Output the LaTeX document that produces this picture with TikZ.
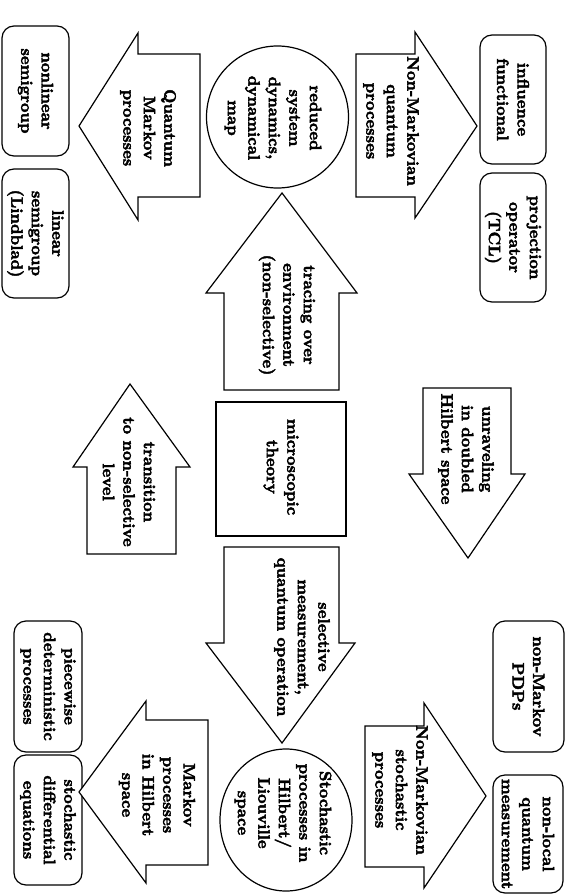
\documentclass[tikz,border=0pt]{standalone}
\usepackage{fontspec}
\newfontfamily\dfont{lmroman10-bold.otf}[FakeBold=2.5]
\begin{document}
\begin{tikzpicture}[x=1pt,y=-1pt,
  shp/.style={draw=black,line width=1.2pt,line join=miter,fill=white},
  rbox/.style={draw=black,line width=1.2pt,rounded corners=12pt},
  lbl/.style={rotate=-90,align=center,inner sep=0pt,font=\dfont\fontsize{16.5}{20.5}\selectfont}]
\useasboundingbox (0,0) rectangle (565,896);
% ---------- top row ----------
\draw[rbox] (2,26) rectangle (69,156);
\node[lbl] (nls) at (35.5,91) {nonlinear\\semigroup};
\draw[rbox] (2,169) rectangle (69,298);
\node[lbl] (lin) at (35.5,233.5) {linear\\semigroup\\(Lindblad)};
\draw[shp] (200,54) -- (138,54) -- (138,33) -- (79,126) -- (138,220) -- (138,197) -- (200,197) -- cycle;
\node[lbl] (qmp) at (148,128) {Quantum\\Markov\\processes};
\draw[shp] (277.5,117) circle[radius=71pt];
\node[lbl] (red) at (273,118) {reduced\\system\\dynamics,\\dynamical\\map};
\draw[shp] (356,54) -- (415,54) -- (415,32) -- (477,126) -- (415,218) -- (415,197) -- (356,197) -- cycle;
\node[lbl] (nmq) at (391,121) {Non-Markovian\\quantum\\processes};
\draw[rbox] (480,35) rectangle (546,164);
\node[lbl] (inf) at (513,99.5) {influence\\functional};
\draw[rbox] (480,173) rectangle (546,302);
\node[lbl] (tcl) at (513,237.5) {projection\\operator\\(TCL)};
% ---------- middle ----------
\draw[shp] (224,390) -- (224,293) -- (206,293) -- (282,193) -- (357,293) -- (339,293) -- (339,390) -- cycle;
\node[lbl] (trc) at (287,315) {tracing over\\environment\\(non-selective)};
\draw[shp] (87,554) -- (87,467) -- (73,467) -- (130,384) -- (190,467) -- (176,467) -- (176,554) -- cycle;
\node[lbl] (trn) at (129,482) {transition\\to non-selective\\level};
\draw[shp] (216,402) rectangle (346,536);
\node[lbl] (mic) at (281,467) {microscopic\\theory};
\draw[shp] (423,388) -- (511,388) -- (511,474) -- (525,474) -- (468,558) -- (409,474) -- (423,474) -- cycle;
\node[lbl] (unr) at (466,449) {unraveling\\in doubled\\Hilbert space};
\draw[shp] (224,547) -- (339,547) -- (339,643) -- (355,643) -- (282,743) -- (206,643) -- (224,643) -- cycle;
\node[lbl] (sel) at (302,637) {selective\\measurement,\\quantum operation};
% ---------- bottom row ----------
\draw[rbox] (14,621) rectangle (82,752);
\node[lbl] (pdp) at (48,686.5) {piecewise\\deterministic\\processes};
\draw[rbox] (14,755) rectangle (82,885);
\node[lbl] (sde) at (48,820) {stochastic\\differential\\equations};
\draw[shp] (208,720) -- (146,720) -- (146,701) -- (79,792) -- (146,883) -- (146,865) -- (208,865) -- cycle;
\node[lbl] (mph) at (157,795) {Markov\\processes\\in Hilbert\\space};
\draw[shp] (286,820) ellipse[x radius=66pt,y radius=71pt];
\node[lbl] (sto) at (283,813) {Stochastic\\processes in\\Hilbert/\\Liouville\\space};
\draw[shp] (365,726) -- (424,726) -- (424,703) -- (486,796) -- (424,888) -- (424,867) -- (365,867) -- cycle;
\node[lbl] (nms) at (400,790) {Non-Markovian\\stochastic\\processes};
\draw[rbox] (493,621) rectangle (564,752);
\node[lbl] (nmp) at (528.5,686.5) {non-Markov\\PDPs};
\draw[rbox] (493,775) rectangle (563,893);
\node[lbl] (nlq) at (528,834) {non-local\\quantum\\measurement};
\end{tikzpicture}
\end{document}
